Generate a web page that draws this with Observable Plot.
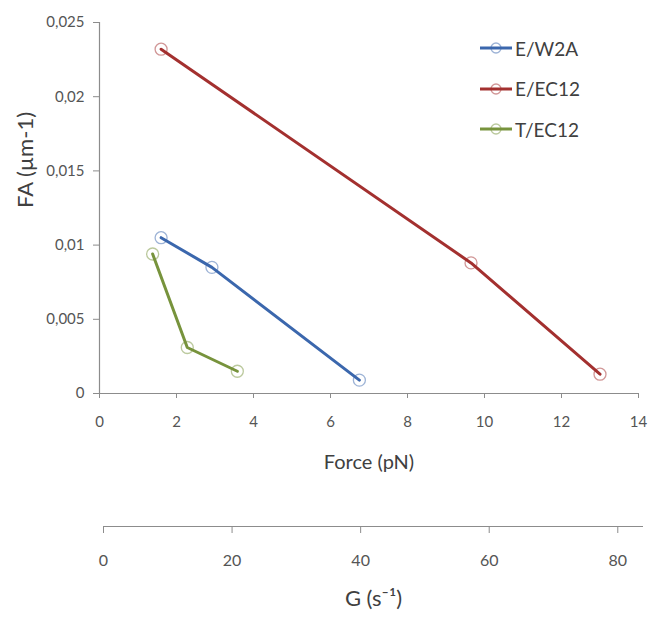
<!DOCTYPE html>
<html>
<head>
<meta charset="utf-8">
<script src="https://cdn.jsdelivr.net/npm/d3@7"></script>
<script src="https://cdn.jsdelivr.net/npm/@observablehq/plot@0.6"></script>
<style>
  body { margin: 0; background: #fff; font-family: Lato, "Open Sans", sans-serif; }
  #wrap { position: relative; width: 650px; height: 621px; overflow: hidden; }
  #main, #gaxis { display: block; }
  #legend { position: absolute; left: 478px; top: 28px; }
  .lg-row { display: flex; align-items: center; height: 40.5px; }
  .lg-row span { font-size: 19px; color: #404040; margin-left: 1px; }
</style>
</head>
<body>
<div id="wrap">
  <div id="main"></div>
  <div id="gaxis"></div>
  <div id="legend"></div>
</div>
<script>
// ---- data ----
const seriesNames = ["E/W2A", "E/EC12", "T/EC12"];
const seriesColors = ["#3b67ad", "#a3302f", "#77933c"];

const forceEW2A = [1.6, 2.92, 6.75];
const faEW2A = [0.0105, 0.0085, 0.0009];

const forceEEC12 = [1.6, 9.65, 13.0];
const faEEC12 = [0.0232, 0.0088, 0.0013];

const forceTEC12 = [1.38, 2.28, 3.58];
const faTEC12 = [0.0094, 0.0031, 0.0015];

const forceTicks = [0, 2, 4, 6, 8, 10, 12, 14];
const faTicks = [0, 0.005, 0.01, 0.015, 0.02, 0.025];
const gTicks = [0, 20, 40, 60, 80];

const yLabel = "FA (µm-1)";
const xLabel = "Force (pN)";
const gLabel = "G (s⁻¹)";

// ---- build table ----
const seriesX = [forceEW2A, forceEEC12, forceTEC12];
const seriesY = [faEW2A, faEEC12, faTEC12];
const data = [];
seriesNames.forEach((name, i) => {
  seriesX[i].forEach((x, j) => data.push({series: name, force: x, fa: seriesY[i][j]}));
});

const axisColor = "#8c8c8c";
const textColor = "#555555";
const comma = d => String(d).replace(".", ",");
const font = "Lato, 'Open Sans', sans-serif";

const main = Plot.plot({
  width: 650,
  height: 490,
  marginLeft: 99,
  marginRight: 12,
  marginTop: 22,
  marginBottom: 97,
  style: {fontFamily: font, background: "#fff", overflow: "visible"},
  x: {domain: [0, 14]},
  y: {domain: [0, 0.025]},
  color: {domain: seriesNames, range: seriesColors},
  marks: [
    Plot.ruleY([0], {stroke: axisColor, strokeWidth: 1.2}),
    Plot.ruleX([0], {stroke: axisColor, strokeWidth: 1.2}),
    Plot.axisX({ticks: forceTicks, tickSize: 5, tickPadding: 18, tickFormat: comma,
      fontSize: 15, stroke: axisColor, fill: textColor, label: null}),
    Plot.axisY({ticks: faTicks, tickSize: 6, tickPadding: 9, tickFormat: comma,
      fontSize: 15, stroke: axisColor, fill: textColor, label: null}),
    Plot.line(data, {x: "force", y: "fa", z: "series", stroke: "series", strokeWidth: 3}),
    Plot.dot(data, {x: "force", y: "fa", r: 6, stroke: "series", strokeOpacity: 0.5,
      strokeWidth: 1.3, fill: "none"}),
    Plot.text([yLabel], {frameAnchor: "left", dx: -74, rotate: -90, fontSize: 22, fill: "#404040"}),
    Plot.text([xLabel], {frameAnchor: "bottom", dy: 75, fontSize: 20, fill: "#404040"})
  ]
});
document.getElementById("main").appendChild(main);

const gaxis = Plot.plot({
  width: 650,
  height: 131,
  marginLeft: 103,
  marginRight: 7,
  marginTop: 0,
  marginBottom: 95,
  style: {fontFamily: font, background: "#fff", overflow: "visible"},
  x: {domain: [0, 84]},
  y: {domain: [0, 1], axis: null},
  marks: [
    Plot.ruleY([0], {stroke: axisColor, strokeWidth: 1.2}),
    Plot.axisX({ticks: gTicks, tickSize: 7, tickPadding: 21, fontSize: 16,
      stroke: axisColor, fill: textColor, label: null}),
    Plot.text([gLabel], {frameAnchor: "bottom", dy: 79, fontSize: 22, fill: "#404040"})
  ]
});
document.getElementById("gaxis").appendChild(gaxis);

// ---- legend ----
const legend = d3.select("#legend");
seriesNames.forEach((name, i) => {
  const row = legend.append("div").attr("class", "lg-row");
  const svg = row.append("svg").attr("width", 36).attr("height", 14);
  svg.append("line").attr("x1", 2).attr("x2", 34).attr("y1", 7).attr("y2", 7)
    .attr("stroke", seriesColors[i]).attr("stroke-width", 3);
  svg.append("circle").attr("cx", 18).attr("cy", 7).attr("r", 5)
    .attr("fill", "none").attr("stroke", seriesColors[i]).attr("stroke-opacity", 0.5)
    .attr("stroke-width", 1.3);
  row.append("span").text(name);
});
</script>
</body>
</html>
